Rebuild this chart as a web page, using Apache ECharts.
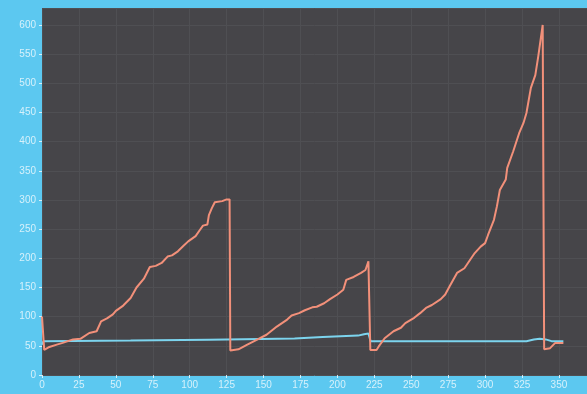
<!DOCTYPE html>
<html>
<head>
<meta charset="utf-8">
<script src="https://cdn.jsdelivr.net/npm/echarts@6/dist/echarts.min.js"></script>
<style>
html, body { margin: 0; padding: 0; background: #5cc8f0; }
#chart { width: 587px; height: 394px; }
</style>
</head>
<body>
<div id="chart"></div>
<script>
// orange (sawtooth) series
var orangeX = [0, 1.5, 5, 10, 14, 21, 26, 32, 37, 40, 44, 48, 50, 55, 60, 64, 69, 73, 77, 81, 85, 88, 92, 96, 99, 104, 107, 109, 112, 113, 115, 117, 122, 125, 127,
	127.5, 133, 139, 146, 152, 159, 166, 169, 174, 178, 183, 186, 191, 195, 200, 204, 206, 211, 216, 219, 221,
	222.3, 226.5, 228, 232, 238, 243, 246, 252, 256, 260, 264, 270, 273, 276, 281, 286, 290, 293, 297, 300, 302, 306, 308, 310, 314, 315, 319, 323, 326, 328, 331, 334, 336, 339,
	340, 344, 347.5, 353]
var orangeY = [100, 43, 48, 52, 55, 61, 62, 72, 75, 92, 97, 104, 110, 119, 132, 150, 165, 185, 187, 192, 203, 205, 212, 222, 229, 238, 249, 256, 258, 274, 286, 296, 298, 301, 301,
	42, 44, 52, 61, 69, 83, 95, 102, 106, 111, 116, 117, 123, 130, 138, 146, 163, 168, 175, 180, 195,
	43, 43, 49, 63, 75, 81, 89, 98, 106, 115, 120, 130, 138, 152, 175, 183, 198, 209, 220, 226, 240, 266, 289, 317, 335, 355, 383, 414, 432, 449, 492, 514, 546, 600,
	44, 46, 55, 55]
// light blue (flat) series
var blueX = [0, 1, 2, 60, 61, 113, 114, 171, 172, 190, 191, 214, 218, 221, 222.5, 328, 333, 337, 341, 345, 353]
var blueY = [52, 58, 59, 59, 60.5, 60.5, 62.5, 62.5, 65, 65, 67.5, 67.5, 70, 71, 58, 58, 61, 62, 61, 58, 58]

function pairs(xs, ys) {
	var out = []
	for (var i = 0; i < xs.length; i++) out.push([xs[i], ys[i]])
	return out
}

var labelColor = 'rgba(235,248,253,0.85)'
var gridColor = '#4f4f53'

var myChart = echarts.init(document.getElementById('chart'))
myChart.setOption({
	animation: false,
	backgroundColor: '#5cc8f0',
	grid: {
		show: true,
		left: 42, top: 8, right: 0, bottom: 19,
		backgroundColor: '#464549',
		borderWidth: 0
	},
	xAxis: {
		type: 'value',
		min: 0, max: 369, interval: 25,
		axisLine: { show: false },
		axisTick: { show: true, length: 3, lineStyle: { color: labelColor } },
		axisLabel: { color: labelColor, fontSize: 10, margin: 5, showMaxLabel: false, fontFamily: 'Liberation Sans' },
		splitLine: { show: true, lineStyle: { color: gridColor, width: 1 } }
	},
	yAxis: {
		type: 'value',
		min: 0, max: 629, interval: 50,
		axisLine: { show: false },
		axisTick: { show: true, length: 3, lineStyle: { color: labelColor } },
		axisLabel: { color: labelColor, fontSize: 10, margin: 6, showMaxLabel: false, fontFamily: 'Liberation Sans' },
		splitLine: { show: true, lineStyle: { color: gridColor, width: 1 } }
	},
	series: [{
		type: 'line',
		data: pairs(blueX, blueY),
		showSymbol: false,
		lineStyle: { color: '#7cd4ee', width: 2 }
	}, {
		type: 'line',
		data: pairs(orangeX, orangeY),
		showSymbol: false,
		lineStyle: { color: '#f2907a', width: 2 }
	}]
})
</script>
</body>
</html>
